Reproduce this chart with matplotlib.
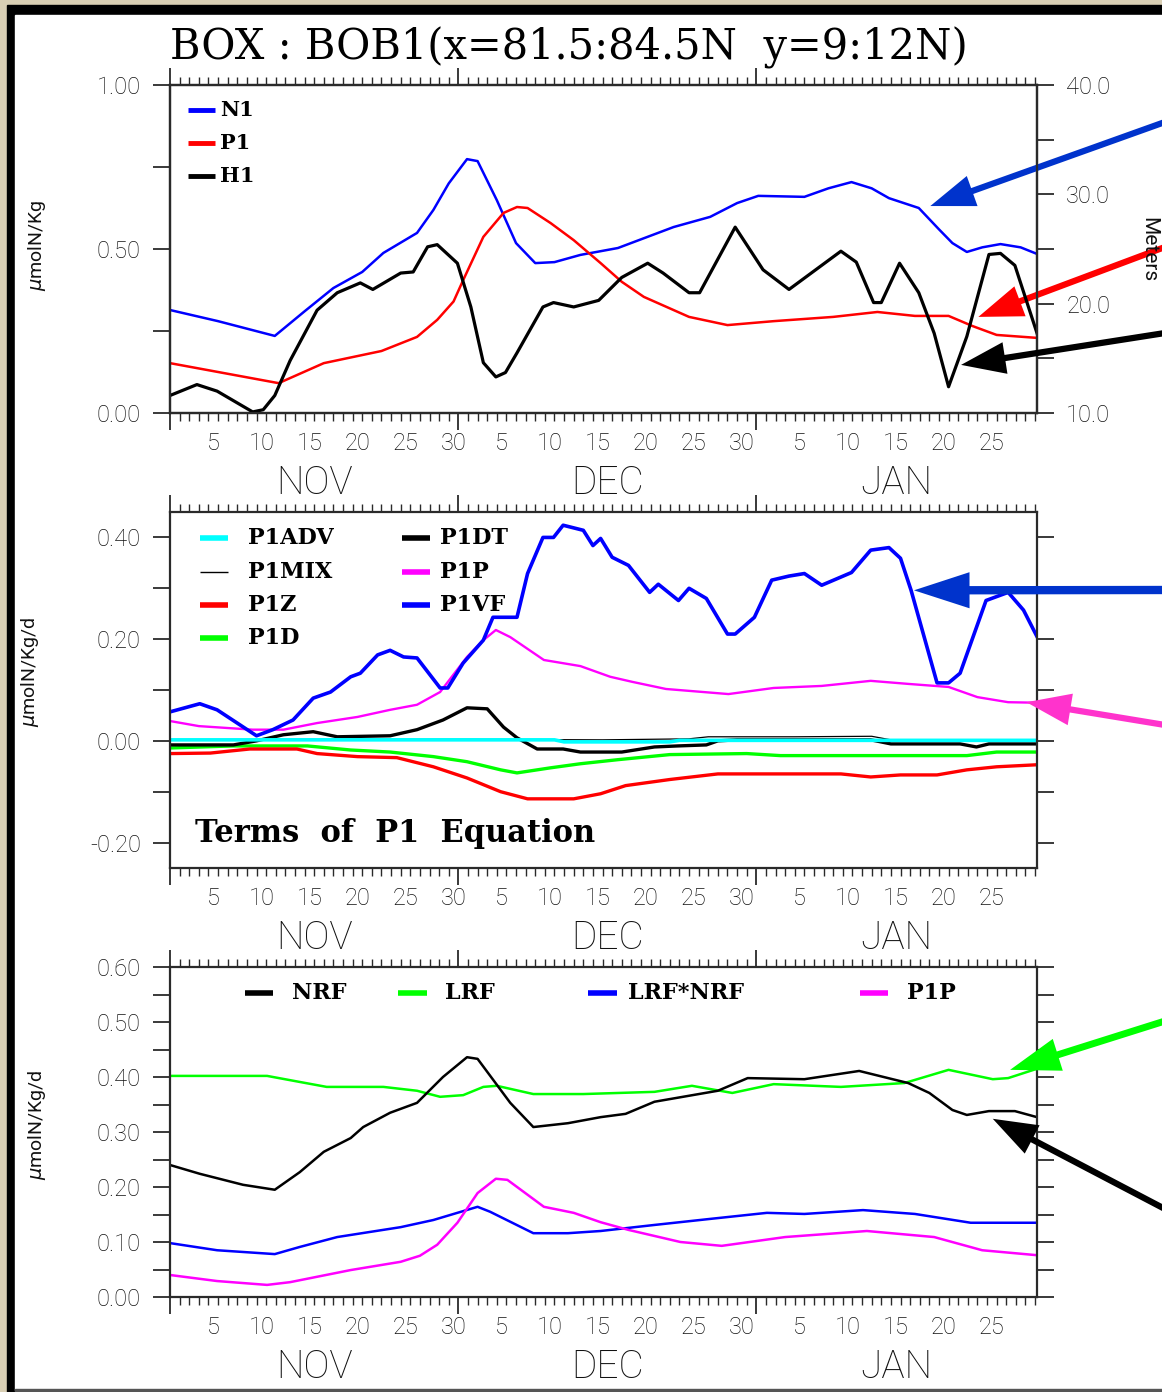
import matplotlib
matplotlib.use('Agg')
import matplotlib.pyplot as plt
from matplotlib.patches import Rectangle
import numpy as np

W, H, DPI = 1162, 1392, 100

# days counted from 1 Nov 00:00
month_names = ['NOV', 'DEC', 'JAN']
month_start = [0, 30, 61]
month_end = [30, 61, 90.2]
day_labels = [[5, 10, 15, 20, 25, 30], [5, 10, 15, 20, 25, 30], [5, 10, 15, 20, 25]]

# ---- top panel: N1, P1 (umolN/Kg) and H1 (meters) ----
n1_day = [0, 5, 10.9, 14, 17, 20, 22.2, 25.7, 27.4, 29, 30.9, 32, 34, 36, 38, 40, 42.7, 46.6, 49.5,
          52.4, 56.2, 59, 61.2, 66, 68.5, 70.9, 73, 74.8, 77.9, 80, 81.4, 82.9, 84.5, 86.4, 88.5, 90.2]
n1_val = [0.314, 0.28, 0.235, 0.31, 0.381, 0.43, 0.488, 0.549, 0.619, 0.70, 0.774, 0.768, 0.649, 0.518,
          0.457, 0.46, 0.482, 0.503, 0.535, 0.567, 0.598, 0.640, 0.662, 0.659, 0.685, 0.704, 0.685, 0.655,
          0.625, 0.56, 0.518, 0.491, 0.505, 0.515, 0.505, 0.485]
p1_day = [0, 5, 11.3, 16, 22, 25.7, 27.8, 29.5, 30.5, 32.6, 34.7, 36.1, 37.2, 39.6, 42, 44.8, 47, 49.3,
          54, 58, 62.8, 69, 73.6, 77.5, 81, 83.5, 86, 90.2]
p1_val = [0.152, 0.125, 0.091, 0.152, 0.189, 0.232, 0.284, 0.34, 0.405, 0.537, 0.610, 0.628, 0.625,
          0.579, 0.527, 0.457, 0.40, 0.354, 0.293, 0.268, 0.280, 0.293, 0.308, 0.296, 0.296, 0.265,
          0.238, 0.229]
h1_day = [0, 2.8, 4.9, 8.6, 9.7, 10.9, 12.5, 15.3, 17.4, 19.8, 21.1, 24, 25.3, 26.8, 27.8, 29.9, 31.3,
          32.6, 33.9, 34.9, 36.1, 38.8, 39.9, 42, 44.6, 47, 49.7, 51.3, 54, 55.1, 58.8, 61.7, 64.4, 69.8,
          71.4, 73.2, 74, 75.9, 77.9, 79.5, 81, 82.9, 85.2, 86.4, 87.9, 90.2]
h1_val = [11.6, 12.6, 12.0, 10.1, 10.3, 11.6, 14.8, 19.4, 21.0, 21.9, 21.3, 22.8, 22.9, 25.2, 25.4, 23.7,
          19.7, 14.6, 13.3, 13.7, 15.5, 19.7, 20.1, 19.7, 20.3, 22.4, 23.7, 22.8, 21.0, 21.0, 27.0, 23.1,
          21.3, 24.8, 23.8, 20.1, 20.1, 23.7, 21.0, 17.3, 12.4, 17.0, 24.5, 24.6, 23.5, 17.3]

# ---- middle panel: terms of the P1 equation (umolN/Kg/d) ----
p1vf_day = [0, 3.1, 4.9, 9, 10.7, 12.8, 14.9, 16.7, 18.8, 19.8, 21.6, 22.9, 24.3, 25.7, 28.1, 28.9, 30.5,
            32.6, 33.6, 36.1, 37.2, 38.8, 39.9, 40.9, 43, 44, 44.8, 46, 47.7, 49.9, 50.8, 52.9, 54, 55.8,
            58, 58.8, 60.8, 62.6, 64.4, 66, 67.8, 70.9, 72.9, 74.8, 76, 77.1, 79.8, 81, 82.2, 84.9, 87.2,
            88.8, 90.2]
p1vf_val = [0.057, 0.073, 0.061, 0.010, 0.022, 0.041, 0.084, 0.096, 0.126, 0.133, 0.169, 0.178, 0.165,
            0.163, 0.104, 0.104, 0.153, 0.198, 0.243, 0.243, 0.329, 0.400, 0.400, 0.424, 0.414, 0.384,
            0.398, 0.361, 0.345, 0.292, 0.308, 0.276, 0.300, 0.280, 0.210, 0.210, 0.243, 0.316, 0.324,
            0.329, 0.306, 0.331, 0.375, 0.380, 0.359, 0.296, 0.114, 0.114, 0.133, 0.276, 0.292, 0.257,
            0.205]
p1p_day = [0, 3, 8.6, 11.8, 15.3, 19.5, 22.9, 25.7, 28.1, 30.9, 32.6, 33.9, 35.4, 38.9, 42.7, 45.8,
           48.1, 51.6, 58.1, 62.8, 67.8, 72.9, 76.8, 81, 84, 87.2, 90.2]
p1p_val = [0.039, 0.029, 0.022, 0.022, 0.035, 0.047, 0.061, 0.071, 0.096, 0.165, 0.198, 0.218, 0.204,
           0.159, 0.147, 0.126, 0.116, 0.102, 0.092, 0.104, 0.108, 0.118, 0.112, 0.106, 0.086, 0.076,
           0.075]
p1dt_day = [0, 6.6, 9, 11.8, 14.9, 17.4, 22.9, 25.7, 28.4, 30.9, 33, 34.7, 36.1, 38.2, 40.9, 42.7, 47,
            50.4, 52.8, 55.8, 57, 59, 72.9, 75, 82.2, 83.9, 85.2, 90.2]
p1dt_val = [-0.008, -0.008, 0.0, 0.012, 0.018, 0.008, 0.010, 0.022, 0.041, 0.065, 0.063, 0.027, 0.006,
            -0.016, -0.016, -0.022, -0.022, -0.012, -0.010, -0.008, 0.0, 0.002, 0.002, -0.006, -0.006,
            -0.012, -0.006, -0.006]
p1mix_day = [0, 15, 30, 45, 54, 56, 65, 73, 75, 90.2]
p1mix_val = [0.002, 0.003, 0.003, 0.002, 0.004, 0.008, 0.008, 0.009, 0.002, 0.001]
p1adv_day = [0, 40, 41, 52, 53, 90.2]
p1adv_val = [0.002, 0.002, -0.002, -0.002, 0.001, 0.001]
p1z_day = [0, 4.2, 8.3, 13.2, 15.3, 19.5, 23.6, 27.4, 30.9, 34.4, 37.2, 42, 44.8, 47.4, 52, 57, 69.8,
           72.9, 76, 79.8, 82.9, 86, 90.2]
p1z_val = [-0.025, -0.024, -0.016, -0.016, -0.025, -0.031, -0.033, -0.051, -0.073, -0.100, -0.114,
           -0.114, -0.104, -0.088, -0.076, -0.065, -0.065, -0.071, -0.067, -0.067, -0.057, -0.051, -0.047]
p1d_day = [0, 6.6, 14.3, 18.8, 22.9, 27.4, 30.9, 34.4, 36.1, 39.6, 42.7, 46.6, 52, 60, 63.5, 82.9, 86, 90.2]
p1d_val = [-0.014, -0.010, -0.010, -0.018, -0.022, -0.031, -0.041, -0.057, -0.063, -0.053, -0.045,
           -0.037, -0.027, -0.025, -0.029, -0.029, -0.022, -0.022]

# ---- bottom panel: limitation factors ----
nrf_day = [0, 3.1, 7.6, 10.9, 13.5, 16, 18.8, 20.1, 22.9, 25.7, 28.4, 30.9, 32, 35.4, 37.8, 41.4, 44.8,
           47.4, 50.4, 57, 60.1, 66, 71.7, 76.8, 79, 81.4, 82.9, 85.2, 87.9, 90.2]
nrf_val = [0.240, 0.224, 0.204, 0.195, 0.227, 0.264, 0.289, 0.309, 0.335, 0.353, 0.400, 0.436, 0.433,
           0.353, 0.309, 0.316, 0.327, 0.333, 0.355, 0.375, 0.398, 0.396, 0.411, 0.389, 0.371, 0.340,
           0.331, 0.338, 0.338, 0.327]
lrf_day = [0, 10.1, 13.5, 16.3, 22.2, 25.7, 28.1, 30.5, 32.6, 34, 37.8, 43, 50.4, 54.3, 58.5, 62.8,
           69.8, 76.4, 81, 85.6, 87.2, 90.2]
lrf_val = [0.402, 0.402, 0.391, 0.382, 0.382, 0.375, 0.364, 0.367, 0.382, 0.384, 0.369, 0.369, 0.373,
           0.384, 0.371, 0.387, 0.382, 0.389, 0.413, 0.396, 0.398, 0.415]
lnrf_day = [0, 4.9, 10.9, 13.5, 17.4, 24, 27.4, 32, 33.3, 37.8, 41.4, 44.8, 50.4, 56.2, 62.1, 66, 72.1,
            77.5, 83.3, 90.2]
lnrf_val = [0.098, 0.085, 0.078, 0.091, 0.109, 0.127, 0.140, 0.164, 0.155, 0.116, 0.116, 0.120, 0.131,
            0.142, 0.153, 0.151, 0.158, 0.151, 0.135, 0.135]
p1p3_day = [0, 4.9, 10.1, 12.5, 18.8, 24, 26, 27.8, 29.9, 32, 33.9, 35.1, 38.9, 42, 44.8, 47.7, 53.1,
            57.4, 64, 72.5, 79.5, 84.5, 90.2]
p1p3_val = [0.040, 0.029, 0.022, 0.027, 0.049, 0.064, 0.075, 0.095, 0.135, 0.189, 0.215, 0.213, 0.164,
            0.153, 0.136, 0.122, 0.100, 0.093, 0.109, 0.120, 0.109, 0.085, 0.076]

SANS = 'Roboto'
SERIF = 'DejaVu Serif'
INK = '#111111'
BLUE, RED, GREEN, MAGENTA, CYAN = '#0000ff', '#ff0000', '#00ff00', '#ff00ff', '#00ffff'

fig = plt.figure(figsize=(W / DPI, H / DPI), dpi=DPI, facecolor='#d9cfb4')

# page frame
bg = fig.add_axes([0, 0, 1, 1], zorder=-10)
bg.set_xlim(0, W)
bg.set_ylim(H, 0)
bg.axis('off')
bg.add_patch(Rectangle((7, 5), W, H, color='black'))
bg.add_patch(Rectangle((15, 15), W, 1375, color='white'))
bg.add_patch(Rectangle((15, 1389), W, 3, color='#555555'))


def panel(top, bottom):
    return fig.add_axes([170 / W, 1 - bottom / H, 867 / W, (bottom - top) / H])


def time_axis(ax):
    ax.set_xlim(0, 90.2)
    for s in ax.spines.values():
        s.set_linewidth(1.6)
        s.set_color('#2a2a2a')
    ax.set_xticks(month_start)
    ax.set_xticks(np.arange(0, 91), minor=True)
    ax.tick_params(axis='x', which='both', top=True, bottom=True, direction='out',
                   labelbottom=False, color='#2a2a2a')
    ax.tick_params(axis='x', which='major', length=12, width=1.3)
    ax.tick_params(axis='x', which='minor', length=6, width=1.0)
    tr = ax.get_xaxis_transform()
    for m in range(3):
        for d in day_labels[m]:
            ax.annotate(str(d), (month_start[m] + d - 0.5, 0), xycoords=tr, xytext=(0, -30),
                        textcoords='offset pixels', ha='center', va='center',
                        fontsize=17, family=SANS, weight='light', color=INK)
        ax.annotate(month_names[m], ((month_start[m] + month_end[m]) / 2, 0), xycoords=tr,
                    xytext=(0, -70), textcoords='offset pixels', ha='center', va='center',
                    fontsize=28, family=SANS, weight='light', color=INK)


def value_axis(ax, lo, hi, ticks, labels, right=True):
    ax.set_ylim(lo, hi)
    ax.set_yticks(ticks)
    ax.set_yticklabels(labels, family=SANS, weight='light', color=INK)
    ax.tick_params(axis='y', which='major', left=True, right=right, direction='out', length=12,
                   width=1.3, labelsize=17, pad=9, color='#2a2a2a')


def legend_entry(ax, x0, x1, y, tx, label, color, lw, size):
    ax.plot([x0, x1], [y, y], color=color, lw=lw, transform=ax.transAxes, solid_capstyle='butt')
    ax.text(tx, y, label, transform=ax.transAxes, ha='left', va='center', fontsize=size,
            family=SERIF, weight='bold', color='black')


def arrow(ax, tip, tail_px, color, hl=3.2, hw=2.3, tw=0.45):
    ax.annotate('', xy=tip, xycoords='data', xytext=(tail_px[0], H - tail_px[1]),
                textcoords='figure pixels', annotation_clip=False, zorder=30,
                arrowprops=dict(arrowstyle='simple,head_length=%g,head_width=%g,tail_width=%g' % (hl, hw, tw),
                                fc=color, ec=color, lw=0, shrinkA=0, shrinkB=0, mutation_scale=10))


# ---- top panel ----
ax1 = panel(85, 413)
time_axis(ax1)
value_axis(ax1, 0, 1, [0, 0.25, 0.5, 0.75, 1.0], ['0.00', '', '0.50', '', '1.00'], right=False)
ax1.plot(n1_day, n1_val, color=BLUE, lw=1.8)
ax1.plot(p1_day, p1_val, color=RED, lw=1.8)
ax1b = ax1.twinx()
ax1b.set_ylim(10, 40)
ax1b.set_yticks(np.arange(10, 41, 5))
ax1b.set_yticklabels(['10.0', '', '20.0', '', '30.0', '', '40.0'], family=SANS, weight='light', color=INK)
ax1b.tick_params(axis='y', direction='out', length=12, width=1.3, labelsize=17, pad=9, color='#2a2a2a')
for s in ax1b.spines.values():
    s.set_linewidth(1.6)
    s.set_color('#2a2a2a')
ax1b.plot(h1_day, h1_val, color='black', lw=2.3)
legend_entry(ax1, 0.021, 0.052, 0.924, 0.058, 'N1', BLUE, 3.5, 15)
legend_entry(ax1, 0.021, 0.052, 0.823, 0.058, 'P1', RED, 3.5, 15)
legend_entry(ax1, 0.021, 0.052, 0.723, 0.058, 'H1', 'black', 3.5, 15)

fig.text(170 / W, 1 - 48 / H, 'BOX : BOB1(x=81.5:84.5N  y=9:12N)', ha='left', va='center',
         fontsize=30, family=SERIF, color='black')
fig.text(37 / W, 1 - 245 / H, r'$\mu$molN/Kg', rotation=90, ha='center', va='center',
         fontsize=14, family=SANS, color=INK)
fig.text(1149 / W, 1 - 250 / H, 'Meters', rotation=270, ha='center', va='center',
         fontsize=15, family=SANS, color=INK)

# ---- middle panel ----
ax2 = panel(512, 868)
time_axis(ax2)
value_axis(ax2, -0.25, 0.45, [-0.2, -0.1, 0, 0.1, 0.2, 0.3, 0.4],
           ['-0.20', '', '0.00', '', '0.20', '', '0.40'])
ax2.plot(p1d_day, p1d_val, color=GREEN, lw=2.4)
ax2.plot(p1z_day, p1z_val, color=RED, lw=2.4)
ax2.plot(p1dt_day, p1dt_val, color='black', lw=2.4)
ax2.plot(p1mix_day, p1mix_val, color='black', lw=0.9)
ax2.plot(p1adv_day, p1adv_val, color=CYAN, lw=2.6)
ax2.plot(p1p_day, p1p_val, color=MAGENTA, lw=1.7)
ax2.plot(p1vf_day, p1vf_val, color=BLUE, lw=2.6)
rows = [0.927, 0.831, 0.739, 0.646]
legend_entry(ax2, 0.035, 0.067, rows[0], 0.090, 'P1ADV', CYAN, 4, 16)
legend_entry(ax2, 0.035, 0.067, rows[1], 0.090, 'P1MIX', 'black', 1.0, 16)
legend_entry(ax2, 0.035, 0.067, rows[2], 0.090, 'P1Z', RED, 4, 16)
legend_entry(ax2, 0.035, 0.067, rows[3], 0.090, 'P1D', GREEN, 4, 16)
legend_entry(ax2, 0.268, 0.300, rows[0], 0.311, 'P1DT', 'black', 4, 16)
legend_entry(ax2, 0.268, 0.300, rows[1], 0.311, 'P1P', MAGENTA, 4, 16)
legend_entry(ax2, 0.268, 0.300, rows[2], 0.311, 'P1VF', BLUE, 4, 16)
ax2.text(0.029, 0.098, 'Terms  of  P1  Equation', transform=ax2.transAxes, ha='left', va='center',
         fontsize=22, family=SERIF, weight='bold')
fig.text(30 / W, 1 - 672 / H, r'$\mu$molN/Kg/d', rotation=90, ha='center', va='center',
         fontsize=14, family=SANS, color=INK)

# ---- bottom panel ----
ax3 = panel(967, 1297)
time_axis(ax3)
value_axis(ax3, 0, 0.6, np.arange(0, 0.61, 0.05),
           ['%.2f' % v if i % 2 == 0 else '' for i, v in enumerate(np.arange(0, 0.61, 0.05))])
ax3.plot(lrf_day, lrf_val, color=GREEN, lw=1.8)
ax3.plot(nrf_day, nrf_val, color='black', lw=1.8)
ax3.plot(lnrf_day, lnrf_val, color=BLUE, lw=1.8)
ax3.plot(p1p3_day, p1p3_val, color=MAGENTA, lw=1.8)
legend_entry(ax3, 0.087, 0.119, 0.921, 0.141, 'NRF', 'black', 4, 16)
legend_entry(ax3, 0.263, 0.296, 0.921, 0.317, 'LRF', GREEN, 4, 16)
legend_entry(ax3, 0.482, 0.516, 0.921, 0.528, 'LRF*NRF', BLUE, 4, 16)
legend_entry(ax3, 0.796, 0.828, 0.921, 0.850, 'P1P', MAGENTA, 4, 16)
fig.text(37 / W, 1 - 1125 / H, r'$\mu$molN/Kg/d', rotation=90, ha='center', va='center',
         fontsize=14, family=SANS, color=INK)

# pointer arrows coming in from the right margin
arrow(ax1, (79.1, 0.631), (1165, 122), '#0033cc')
arrow(ax1, (84.1, 0.293), (1165, 247), RED)
arrow(ax1b, (82.3, 14.4), (1165, 333), 'black')
arrow(ax2, (77.4, 0.296), (1165, 590), '#0033cc', hl=4.0, hw=2.6, tw=0.6)
arrow(ax2, (89.1, 0.076), (1165, 725), '#ff33cc')
arrow(ax3, (87.4, 0.413), (1165, 1021), GREEN, hl=3.6, hw=2.4, tw=0.5)
arrow(ax3, (85.6, 0.324), (1165, 1209), 'black')

fig.savefig('out.png', dpi=DPI, facecolor=fig.get_facecolor())
